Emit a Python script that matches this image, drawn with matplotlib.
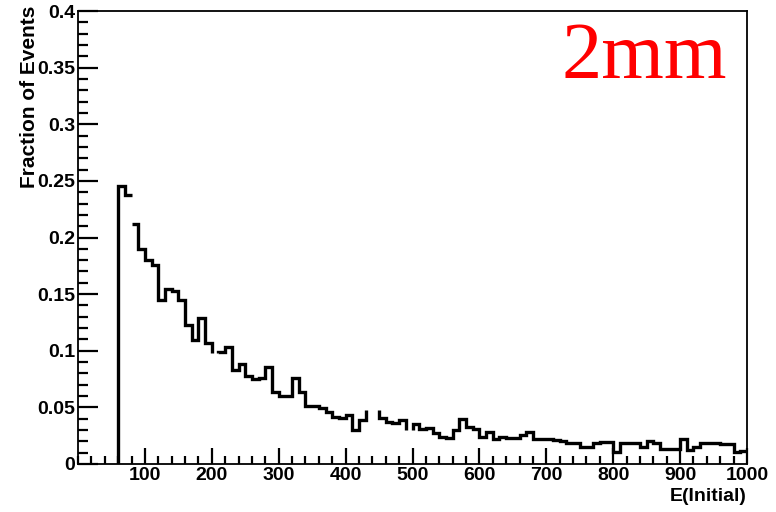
#!/usr/bin/env python3
"""ROOT-style histogram: fraction of events vs initial energy (2mm)."""
import numpy as np
import matplotlib
matplotlib.use("Agg")
import matplotlib.pyplot as plt
from matplotlib.ticker import MultipleLocator, FixedLocator, FuncFormatter

# --- data: 10-unit bins from 60 to 1000 -------------------------------------
bin_edges = np.arange(60, 1001, 10)
fractions = [
    0.2455, 0.2375, 0.2120, 0.1896, 0.1800, 0.1757, 0.1448, 0.1542, 0.1530, 0.1448,   # 60-150
    0.1227, 0.1095, 0.1286, 0.1066, 0.0977, 0.0992, 0.1036, 0.0830, 0.0880, 0.0780,   # 160-250
    0.0748, 0.0757, 0.0859, 0.0639, 0.0600, 0.0600, 0.0757, 0.0639, 0.0512, 0.0512,   # 260-350
    0.0492, 0.0462, 0.0412, 0.0403, 0.0433, 0.0300, 0.0389, 0.0477, 0.0477, 0.0410,   # 360-450
    0.0374, 0.0360, 0.0389, 0.0300, 0.0350, 0.0310, 0.0320, 0.0270, 0.0241, 0.0227,   # 460-550
    0.0300, 0.0395, 0.0327, 0.0305, 0.0241, 0.0280, 0.0221, 0.0235, 0.0227, 0.0227,   # 560-650
    0.0256, 0.0286, 0.0218, 0.0218, 0.0220, 0.0210, 0.0203, 0.0183, 0.0183, 0.0153,   # 660-750
    0.0153, 0.0183, 0.0197, 0.0197, 0.0105, 0.0183, 0.0183, 0.0189, 0.0153, 0.0203,   # 760-850
    0.0183, 0.0130, 0.0130, 0.0130, 0.0218, 0.0124, 0.0148, 0.0183, 0.0183, 0.0183,   # 860-950
    0.0174, 0.0174, 0.0109, 0.0118,                                                   # 960-990
]
# pieces of the outline that are missing in the original plot
hidden_bins = [200, 430, 440, 490]   # horizontal top not drawn
hidden_steps = [80]                  # vertical edge not drawn

x_ticks = [100, 200, 300, 400, 500, 600, 700, 800, 900, 1000]
y_ticks = [0, 0.05, 0.1, 0.15, 0.2, 0.25, 0.3, 0.35, 0.4]

# --- outline path ------------------------------------------------------------
xs, ys = [bin_edges[0]], [0.0]
for i, v in enumerate(fractions):
    lo, hi = bin_edges[i], bin_edges[i + 1]
    if lo in hidden_steps:
        xs.append(np.nan); ys.append(np.nan)
    xs.append(lo); ys.append(v)
    if lo in hidden_bins:
        xs.append(np.nan); ys.append(np.nan)
    xs.append(hi); ys.append(v)

plt.rcParams.update({"font.family": "Liberation Sans", "font.weight": "bold"})

fig = plt.figure(figsize=(7.76, 5.12), dpi=100)
ax = fig.add_axes([78 / 776, 48 / 512, 669 / 776, 453 / 512])

ax.plot(xs, ys, color="black", lw=2.4, solid_joinstyle="miter", solid_capstyle="butt")

ax.set_xlim(0, 1000)
ax.set_ylim(0, 0.4)
ax.xaxis.set_major_locator(FixedLocator(x_ticks))
ax.xaxis.set_minor_locator(MultipleLocator(20))
ax.yaxis.set_major_locator(FixedLocator(y_ticks))
ax.yaxis.set_minor_locator(MultipleLocator(0.01))
ax.yaxis.set_major_formatter(FuncFormatter(lambda v, p: f"{v:g}"))

ax.tick_params(which="both", direction="in", top=False, right=False, width=1.6, labelsize=14, pad=2)
ax.tick_params(axis="x", which="major", length=11.5)
ax.tick_params(axis="x", which="minor", length=6)
ax.tick_params(axis="y", which="major", length=14.5)
ax.tick_params(axis="y", which="minor", length=7)
for lab in ax.get_xticklabels() + ax.get_yticklabels():
    lab.set_fontweight("bold")
for s in ax.spines.values():
    s.set_linewidth(1.3)

ax.set_xlabel("E(Initial)", fontsize=14, fontweight="bold", loc="right")
ax.xaxis.set_label_coords(1.0, -0.052)
ax.set_ylabel("Fraction of Events", fontsize=15, fontweight="bold", loc="top")
ax.yaxis.set_label_coords(-0.058, 1.012)

ax.text(0.97, 0.852, "2mm", transform=ax.transAxes, ha="right", va="baseline",
        color="red", fontsize=58, family="Liberation Serif", fontweight="normal")

fig.savefig("out.png", dpi=100)
